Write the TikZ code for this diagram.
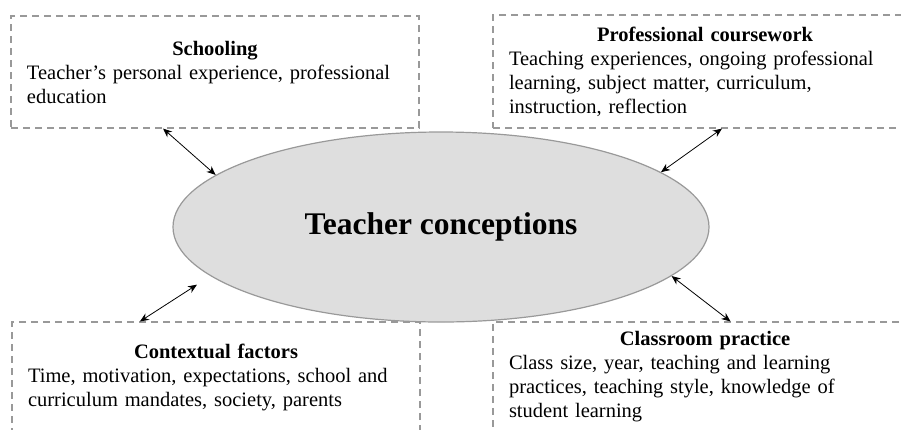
\documentclass[tikz,border=0pt]{standalone}
\usepackage{fontspec}
\setmainfont{Liberation Serif}
\usepackage{tikz}
\usetikzlibrary{arrows.meta}
\usetikzlibrary{calc}
\usetikzlibrary{shapes}
\tikzset{
    arrow/.style={<->, >={Stealth[length=9pt,width=7.5pt]}, line width=0.8pt},
    factor/.style = {
      draw=black!40,
      line width=1.1pt,
      dash pattern=on 7pt off 5pt,
      rectangle,
      inner xsep=16pt,
      align=left,
      font=\fontsize{20.5}{24}\selectfont
    },
    concept/.style = {
      draw=black!40,
      line width=1.2pt,
      fill=black!13,
      ellipse,
      minimum width=536pt,
      minimum height=190pt,
      font=\fontsize{31.5}{34}\selectfont\bfseries
    },
}

\begin{document}
\begin{tikzpicture}[x=1pt, y=-1pt]
      \path[use as bounding box, clip] (0,0) rectangle (901,429);

      \node [factor, text width=376pt, minimum height=112pt] (schooling) at (215,72)
            {\makebox[\hsize]{\textbf{Schooling}}\\
             Teacher’s personal experience, professional\\
             education};
      \node [factor, text width=392pt, minimum height=113pt] (coursework) at (705,71.5)
            {\makebox[\hsize]{\textbf{Professional coursework}}\\
             Teaching experiences, ongoing professional\\
             learning, subject matter, curriculum,\\
             instruction, reflection};
      \node [factor, text width=376pt, minimum height=110pt] (context) at (216,377)
            {\makebox[\hsize]{\textbf{Contextual factors}}\\
             Time, motivation, expectations, school and\\
             curriculum mandates, society, parents};
      \node [factor, text width=392pt, minimum height=110pt] (practice) at (705,377)
            {\makebox[\hsize]{\textbf{Classroom practice}}\\
             Class size, year, teaching and learning\\
             practices, teaching style, knowledge of\\
             student learning};

      \node [concept] (conceptions) at (441,227) {Teacher conceptions};

      \draw [arrow] ($(schooling.south west)!0.373!(schooling.south east)$) -- (conceptions.167);
      \draw [arrow] ($(coursework.south west)!0.54!(coursework.south east)$) -- (conceptions.14);
      \draw [arrow, shorten >=16pt] ($(context.north west)!0.314!(context.north east)$) -- (conceptions.192);
      \draw [arrow] ($(practice.north west)!0.56!(practice.north east)$) -- (conceptions.-12);
\end{tikzpicture}
\end{document}
